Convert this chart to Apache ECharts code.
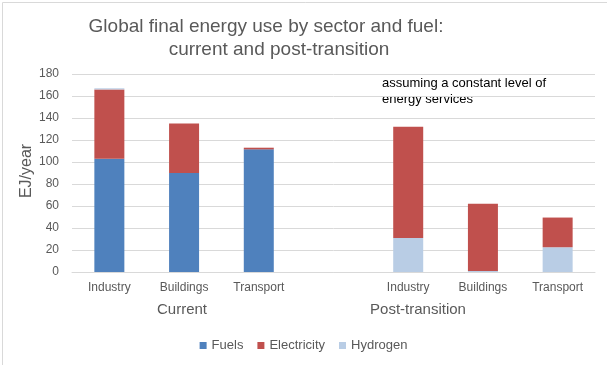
<!DOCTYPE html>
<html><head><meta charset="utf-8">
<script src="https://cdn.jsdelivr.net/npm/echarts@6/dist/echarts.min.js"></script>
<style>html,body{margin:0;padding:0;background:#fff}#c{width:607px;height:365px}</style>
</head><body><div id="c"></div>
<script>
var categories = ['Industry','Buildings','Transport','','Industry','Buildings','Transport'];
var fuels       = [103, 90, 111.5, null, 0, 0, 0];
var electricity = [63, 45, 1.5, null, 101, 61, 27];
var hydrogenPost = [null, null, null, null, 31, 1, 22.5];
var hydrogenCurrent = [1, 0, 0, null, null, null, null];
var yTicks = {min: 0, max: 180, interval: 20};

var FONT = 'Liberation Sans, Arial, sans-serif';
var chart = echarts.init(document.getElementById('c'), null, {renderer: 'canvas'});
var C_F = '#4f81bd', C_E = '#c0504d', C_H = '#b9cde5';
chart.setOption({
  animation: false,
  textStyle: {fontFamily: FONT},
  title: [
    {text: 'Global final energy use by sector and fuel:', left: 261, top: 12, textAlign: 'center',
     textStyle: {fontFamily: FONT, fontSize: 19, fontWeight: 'normal', color: '#595959'}},
    {text: 'current and post-transition', left: 274, top: 35, textAlign: 'center',
     textStyle: {fontFamily: FONT, fontSize: 19, fontWeight: 'normal', color: '#595959'}}
  ],
  grid: {left: 72, right: 12, top: 74, bottom: 93, containLabel: false},
  legend: {
    data: ['Fuels', 'Electricity', 'Hydrogen'],
    bottom: 8, left: 'center',
    icon: 'rect', itemWidth: 7, itemHeight: 7, itemGap: 14,
    textStyle: {fontFamily: FONT, fontSize: 13, color: '#595959'}
  },
  xAxis: {
    type: 'category', data: categories,
    axisLine: {lineStyle: {color: '#d9d9d9'}},
    axisTick: {show: false},
    axisLabel: {fontFamily: FONT, fontSize: 12, color: '#595959', margin: 10, interval: 0}
  },
  yAxis: {
    type: 'value', min: yTicks.min, max: yTicks.max, interval: yTicks.interval,
    axisLine: {show: false}, axisTick: {show: false},
    splitLine: {lineStyle: {color: '#d9d9d9'}},
    axisLabel: {fontFamily: FONT, fontSize: 12, color: '#595959', margin: 13}
  },
  series: [
    {name: 'Hydrogen', type: 'bar', stack: 's', data: hydrogenPost, barWidth: 30, itemStyle: {color: C_H}},
    {name: 'Fuels', type: 'bar', stack: 's', data: fuels, barWidth: 30, itemStyle: {color: C_F}},
    {name: 'Electricity', type: 'bar', stack: 's', data: electricity, barWidth: 30, itemStyle: {color: C_E}},
    {name: 'Hydrogen', type: 'bar', stack: 's', data: hydrogenCurrent, barWidth: 30, itemStyle: {color: C_H}}
  ],
  graphic: [
    {type: 'rect', left: 0, top: 0, shape: {x: 0.5, y: 0.5, width: 606, height: 364},
     style: {fill: 'none', stroke: '#d9d9d9', lineWidth: 1}, silent: true},
    {type: 'text', x: 27, y: 171, rotation: Math.PI / 2,
     style: {text: 'EJ/year', font: '16px ' + FONT, fill: '#595959', textAlign: 'center', textVerticalAlign: 'middle'}},
    {type: 'text', x: 182, y: 310,
     style: {text: 'Current', font: '15px ' + FONT, fill: '#595959', textAlign: 'center', textVerticalAlign: 'middle'}},
    {type: 'text', x: 418, y: 310,
     style: {text: 'Post-transition', font: '15px ' + FONT, fill: '#595959', textAlign: 'center', textVerticalAlign: 'middle'}},
    {type: 'text', x: 382, y: 75,
     style: {text: 'assuming a constant level of\nenergy services', font: '13px ' + FONT, fill: '#000', lineHeight: 16, textAlign: 'left', textVerticalAlign: 'top'}}
  ]
});
</script></body></html>
